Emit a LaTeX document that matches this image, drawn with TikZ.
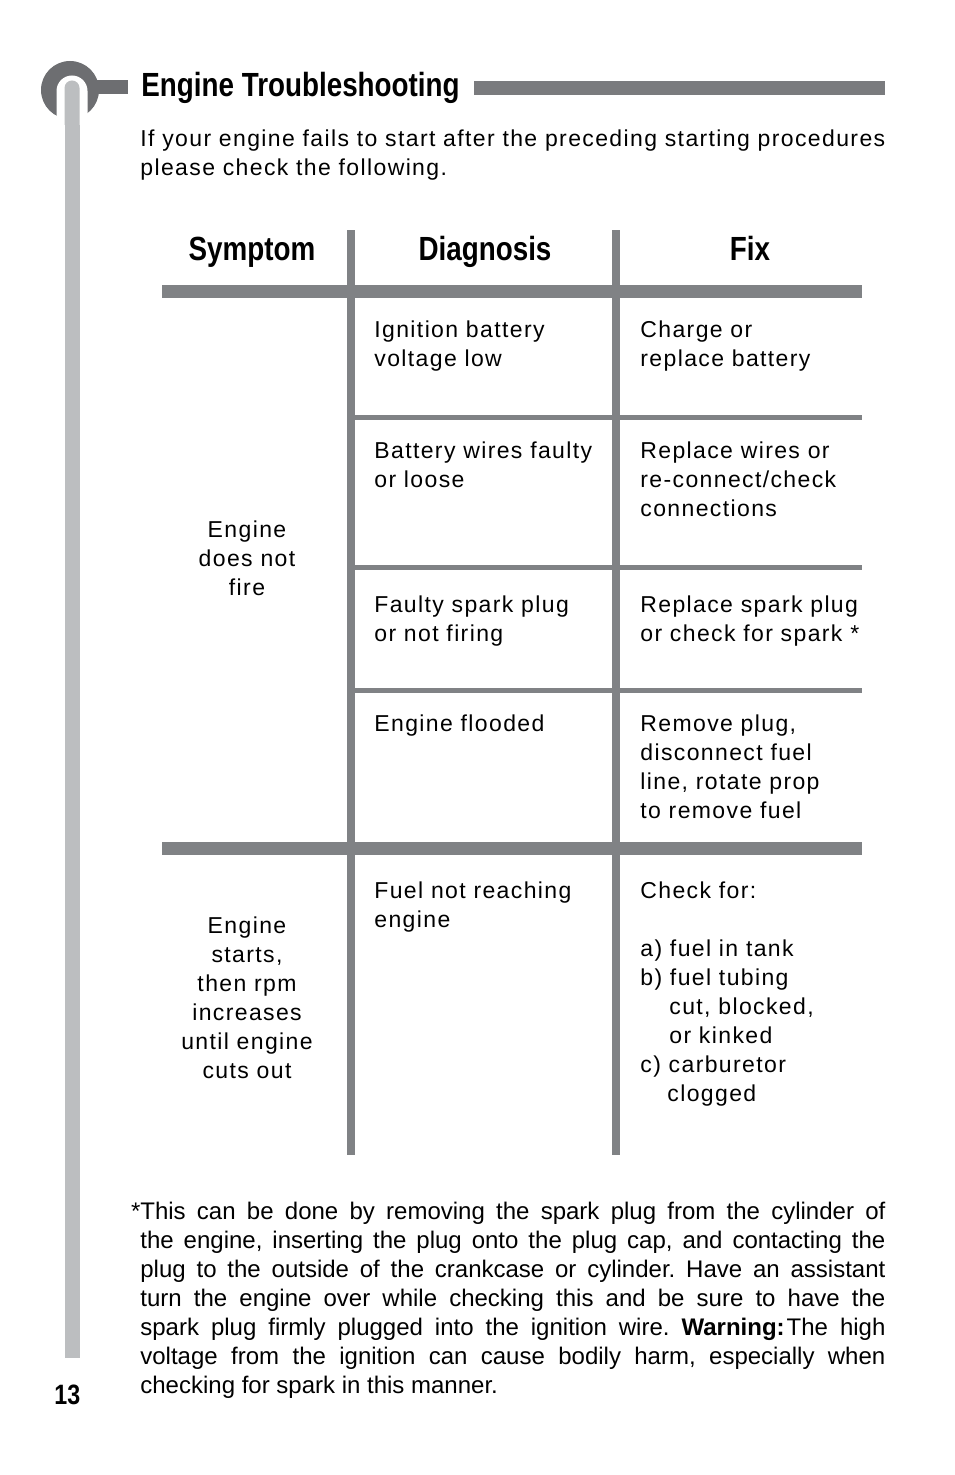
\documentclass[tikz,border=0pt]{standalone}
\usepackage{fontspec}
\setmainfont{Liberation Sans}
\newfontfamily\bodyfont{Liberation Sans}[LetterSpace=6.0]
\newfontfamily\headfont{Liberation Sans}[FakeStretch=0.83]
\newfontfamily\notefont{Liberation Sans}
\definecolor{ringgray}{RGB}{109,110,113}
\definecolor{rulegray}{RGB}{128,130,133}
\definecolor{bargray}{RGB}{188,190,192}
\frenchspacing

\begin{document}
\begin{tikzpicture}[x=0.5pt, y=-0.5pt,
		body/.style={inner sep=0, anchor=north west, yshift=8.15pt, align=left,
			execute at begin node=\strut, font={\bodyfont\fontsize{11.5}{14.5}\selectfont}},
		sym/.style={body, anchor=north, align=center},
		head/.style={inner sep=0, anchor=base, font={\headfont\bfseries\fontsize{16.75}{20}\selectfont}},
		rule/.style={fill=rulegray}]
	\useasboundingbox[fill=white] (0,0) rectangle (954,1475);
	% logo and title
	\fill[bargray] (64.5,1358) rectangle (79.5,88);
	\fill[ringgray] (70,90) circle (29);
	\fill[ringgray] (95,80) rectangle (128,94);
	\fill[white] (56.5,125) rectangle (87.5,91) (72,91) circle (15.5);
	\fill[bargray] (64.5,125) rectangle (79.5,88) (72,88) circle (7.5);
	\node[head, anchor=base west] (title) at (141,97) {Engine Troubleshooting};
	\fill[rulegray!95!black] (474,81) rectangle (885,95);
	\node[body] (intro) at (140,146) {If your engine fails to start after the preceding starting procedures\\please check the following.};
	% table
	\foreach \n/\x/\t in {symptom/252/Symptom, diagnosis/485/Diagnosis, fix/750/Fix}
		\node[head] (\n) at (\x,261) {\t};
	\foreach \x in {351, 616}
		\fill[rule] (\x-4,230) rectangle (\x+4,1155);
	\foreach \y in {291.5, 848}
		\fill[rule] (162,\y-6.5) rectangle (862,\y+6.5);
	\foreach \y in {417.5, 567.5, 690.5}
		\fill[rule] (355,\y-2.5) rectangle (862,\y+2.5);
	\foreach \n/\y/\d/\f in {r1/337/{Ignition battery\\voltage low}/{Charge or\\replace battery},
			r2/458/{Battery wires faulty\\or loose}/{Replace wires or\\re-connect/check\\connections},
			r3/612/{Faulty spark plug\\or not firing}/{Replace spark plug\\or check for spark *},
			r4/731/{Engine flooded\\}/{Remove plug,\\disconnect fuel\\line, rotate prop\\to remove fuel}}
	{
		\node[body] (\n d) at (374,\y) {\d};
		\node[body] (\n f) at (640,\y) {\f};
	}
	\node[sym] (s1) at (247,537) {Engine\\does not\\fire};
	\node[sym] (s2) at (247,933) {Engine\\starts,\\then rpm\\increases\\until engine\\cuts out};
	\node[body] (r5d) at (374,898) {Fuel not reaching\\engine};
	\node[body] (r5f) at (640,898) {Check for:\\[14.5pt]a) fuel in tank\\b) fuel tubing\\\hspace*{14.5pt}cut, blocked,\\\hspace*{14.5pt}or kinked\\c) carburetor\\\hspace*{13.5pt}clogged};
	% footnote
	\node[body, font={\notefont\fontsize{12}{14.5}\selectfont}] (note) at (140,1218)
		{\llap{*}\makebox[372.5pt][s]{This can be done by removing the spark plug from the cylinder of}\\
		\makebox[372.5pt][s]{the engine, inserting the plug onto the plug cap, and contacting the}\\
		\makebox[372.5pt][s]{plug to the outside of the crankcase or cylinder. Have an assistant}\\
		\makebox[372.5pt][s]{turn the engine over while checking this and be sure to have the}\\
		\makebox[372.5pt][s]{spark plug firmly plugged into the ignition wire. \textbf{Warning:}\kern1pt The high}\\
		\makebox[372.5pt][s]{voltage from the ignition can cause bodily harm, especially when}\\
		checking for spark in this manner.};
	\node[head, anchor=base west, font={\headfont\bfseries\fontsize{14}{16}\selectfont}] (page) at (54,1404) {13};
\end{tikzpicture}
\end{document}
